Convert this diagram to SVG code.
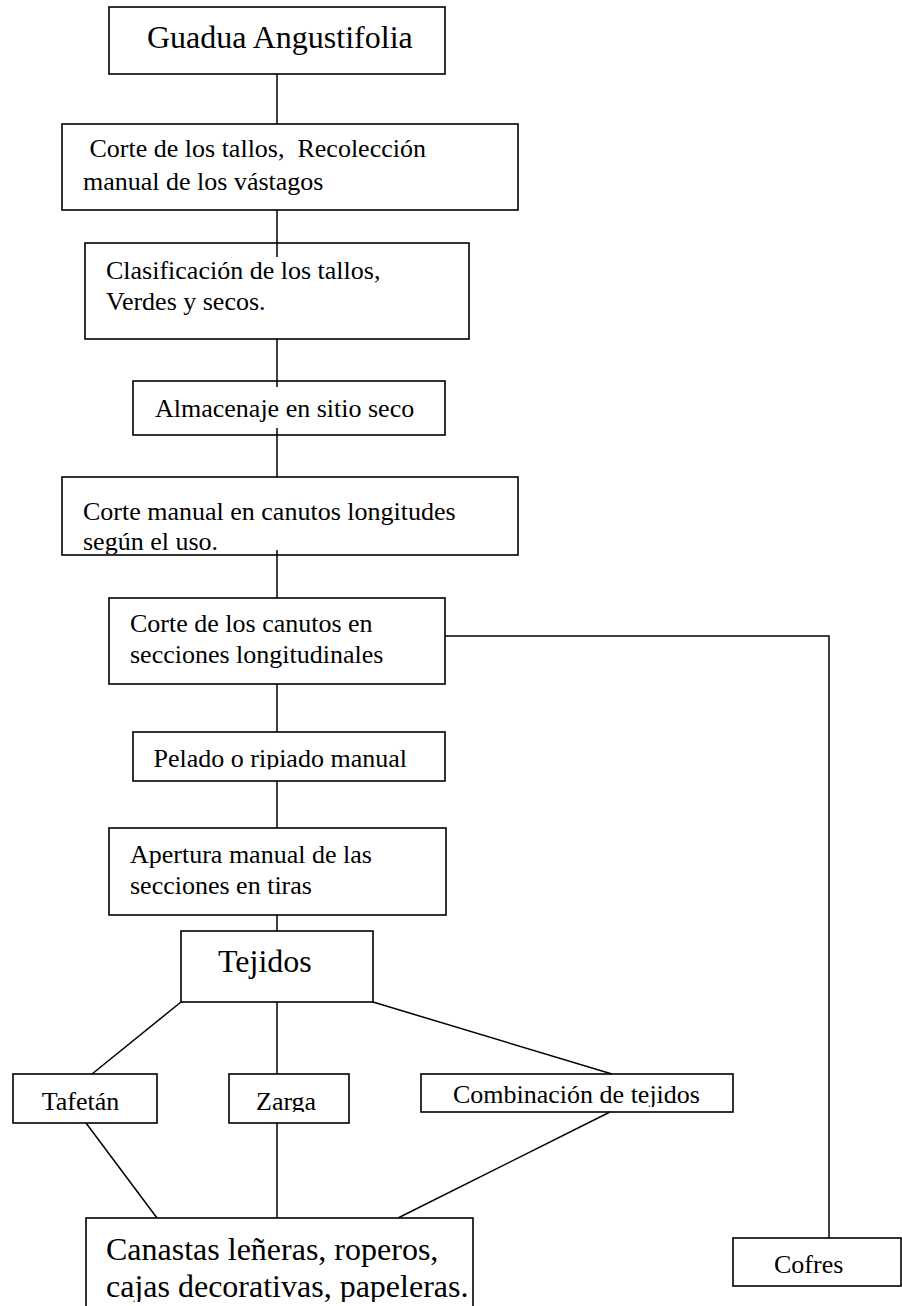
<svg xmlns="http://www.w3.org/2000/svg" width="902" height="1306" viewBox="0 0 902 1306">
<style>
.box{fill:none;stroke:#000;stroke-width:1.6}
.t{font-family:"Liberation Serif","Times New Roman",serif;font-size:26px;fill:#000}
.big{font-size:32px}
.c{fill:none;stroke:#000;stroke-width:1.5}
</style>
<defs>
<clipPath id="cp5"><rect x="60" y="476" width="460" height="78"/></clipPath>
<clipPath id="cp7"><rect x="130" y="732" width="318" height="37.5"/></clipPath>
<clipPath id="cp11"><rect x="227" y="1074" width="124" height="38"/></clipPath>
<clipPath id="cp12"><rect x="419" y="1074" width="316" height="33"/></clipPath>
<clipPath id="cp13"><rect x="84" y="1218" width="392" height="84"/></clipPath>
</defs>
<rect width="902" height="1306" fill="#fff"/>
<g id="connectors">
<line class="c" x1="277" y1="74" x2="277" y2="124"/>
<line class="c" x1="277" y1="210" x2="277" y2="257"/>
<line class="c" x1="277" y1="339" x2="277" y2="387"/>
<line class="c" x1="277" y1="428" x2="277" y2="477"/>
<line class="c" x1="277" y1="550" x2="277" y2="598"/>
<line class="c" x1="277" y1="684" x2="277" y2="732"/>
<line class="c" x1="277" y1="781" x2="277" y2="828"/>
<line class="c" x1="277" y1="915" x2="277" y2="931"/>
<line class="c" x1="181" y1="1002" x2="92" y2="1074"/>
<line class="c" x1="277" y1="1002" x2="277" y2="1074"/>
<line class="c" x1="373" y1="1002" x2="612" y2="1074"/>
<line class="c" x1="86" y1="1123" x2="157" y2="1218"/>
<line class="c" x1="277" y1="1123" x2="277" y2="1218"/>
<line class="c" x1="610" y1="1112" x2="398" y2="1218"/>
<polyline class="c" points="445,636 829,636 829,1238"/>
</g>
<g id="n1"><rect class="box" x="109" y="7" width="336" height="67"/><text class="t big" x="147" y="48">Guadua Angustifolia</text></g>
<g id="n2"><rect class="box" x="62" y="124" width="456" height="86"/><text class="t" xml:space="preserve" x="83" y="157"> Corte de los tallos,  Recolección</text><text class="t" x="83" y="190">manual de los vástagos</text></g>
<g id="n3"><rect class="box" x="85" y="243" width="384" height="96"/><text class="t" x="106" y="279">Clasificación de los tallos,</text><text class="t" x="106" y="310">Verdes y secos.</text></g>
<g id="n4"><rect class="box" x="133" y="381" width="312" height="54"/><text class="t" x="155" y="417">Almacenaje en sitio seco</text></g>
<g id="n5"><rect class="box" x="62" y="477" width="456" height="78"/><g clip-path="url(#cp5)"><text class="t" x="83" y="520">Corte manual en canutos longitudes</text><text class="t" x="83" y="550">según el uso.</text></g></g>
<g id="n6"><rect class="box" x="109" y="598" width="336" height="86"/><text class="t" x="130" y="632">Corte de los canutos en</text><text class="t" x="130" y="663">secciones longitudinales</text></g>
<g id="n7"><rect class="box" x="133" y="732" width="312" height="49"/><g clip-path="url(#cp7)"><text class="t" x="153.5" y="767">Pelado o ripiado manual</text></g></g>
<g id="n8"><rect class="box" x="109" y="828" width="337" height="87"/><text class="t" x="130" y="863">Apertura manual de las</text><text class="t" x="130" y="894">secciones en tiras</text></g>
<g id="n9"><rect class="box" x="181" y="931" width="192" height="71"/><text class="t big" x="218" y="972">Tejidos</text></g>
<g id="n10"><rect class="box" x="13" y="1074" width="144" height="49"/><text class="t" x="41.7" y="1110">Tafetán</text></g>
<g id="n11"><rect class="box" x="229" y="1074" width="120" height="49"/><g clip-path="url(#cp11)"><text class="t" x="256" y="1110">Zarga</text></g></g>
<g id="n12"><rect class="box" x="421" y="1074" width="312" height="38"/><g clip-path="url(#cp12)"><text class="t" x="453" y="1103">Combinación de tejidos</text></g></g>
<g id="n13"><rect class="box" x="86" y="1218" width="387" height="100"/><g clip-path="url(#cp13)"><text class="t big" x="106" y="1260">Canastas leñeras, roperos,</text><text class="t big" x="106" y="1297">cajas decorativas, papeleras.</text></g></g>
<g id="n14"><rect class="box" x="733" y="1238" width="168" height="48"/><text class="t" x="774" y="1273">Cofres</text></g>
</svg>
